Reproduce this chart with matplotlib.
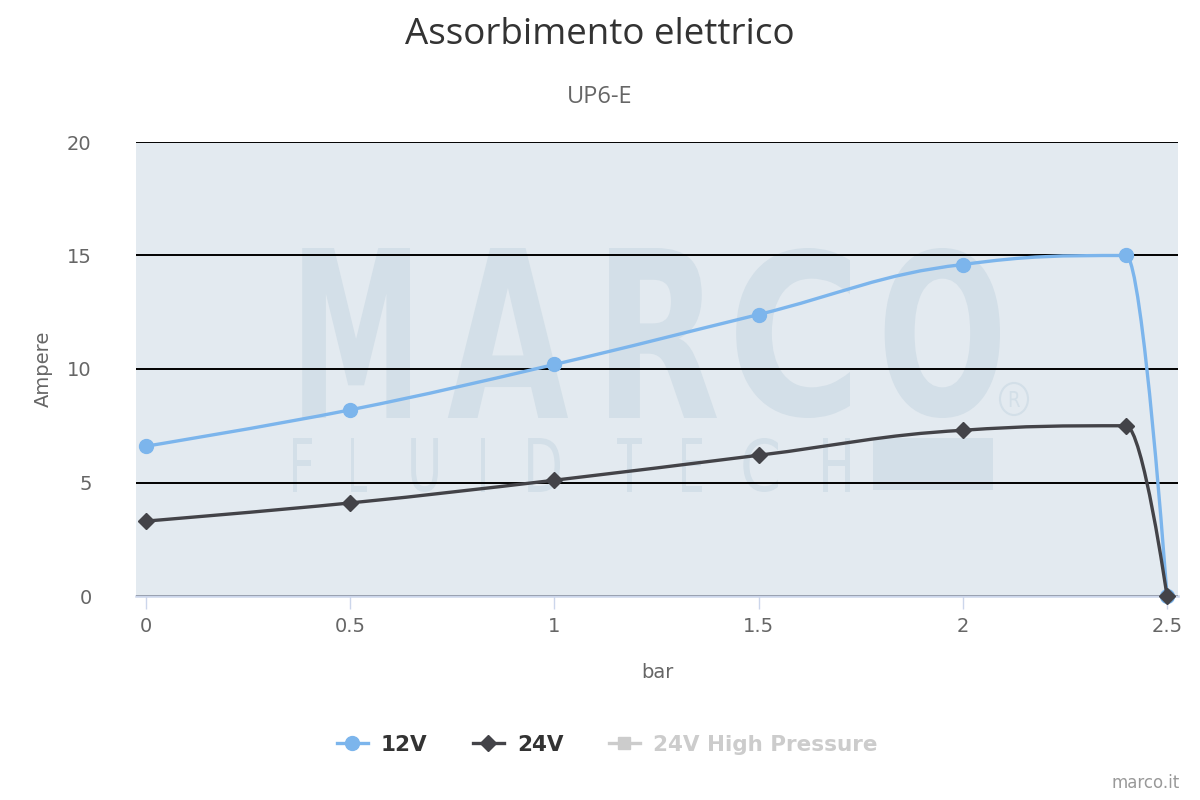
# Assorbimento elettrico - UP6-E
import numpy as np
import matplotlib
matplotlib.use('Agg')
import matplotlib.pyplot as plt
from matplotlib.path import Path
from matplotlib.patches import PathPatch, Rectangle, Ellipse
from matplotlib.textpath import TextPath
from matplotlib.font_manager import FontProperties
from matplotlib.lines import Line2D

# dati
bar = [0, 0.5, 1, 1.5, 2, 2.4, 2.5]
amp_12v = [6.6, 8.2, 10.2, 12.4, 14.6, 15.0, 0]
amp_24v = [3.3, 4.1, 5.1, 6.2, 7.3, 7.5, 0]
series_names = ['12V', '24V', '24V High Pressure']
x_ticks = [0, 0.5, 1, 1.5, 2, 2.5]
x_ticklabels = ['0', '0.5', '1', '1.5', '2', '2.5']
y_ticks = [0, 5, 10, 15, 20]

c12 = '#7cb5ec'
c24 = '#434348'
chidden = '#cccccc'
W, H = 1200, 800


# spline tipo highcharts (smoothing 1.5)
def spline_path(xs, ys):
    n = len(xs)
    right = [None] * n
    verts = [(xs[0], ys[0])]
    codes = [Path.MOVETO]
    s = 1.5
    d = s + 1
    for i in range(1, n):
        px, py = xs[i], ys[i]
        lx, ly = xs[i - 1], ys[i - 1]
        lcx, lcy = px, py
        if i < n - 1:
            nx, ny = xs[i + 1], ys[i + 1]
            lcx = (s * px + lx) / d
            lcy = (s * py + ly) / d
            rcx = (s * px + nx) / d
            rcy = (s * py + ny) / d
            corr = 0
            if rcx != lcx:
                corr = (rcy - lcy) * (rcx - px) / (rcx - lcx) + py - rcy
            lcy += corr
            rcy += corr
            if lcy > ly and lcy > py:
                lcy = max(ly, py)
                rcy = 2 * py - lcy
            elif lcy < ly and lcy < py:
                lcy = min(ly, py)
                rcy = 2 * py - lcy
            if rcy > ny and rcy > py:
                rcy = max(ny, py)
                lcy = 2 * py - rcy
            elif rcy < ny and rcy < py:
                rcy = min(ny, py)
                lcy = 2 * py - rcy
            right[i] = (rcx, rcy)
        c1 = right[i - 1] if right[i - 1] is not None else (lx, ly)
        verts += [c1, (lcx, lcy), (px, py)]
        codes += [Path.CURVE4] * 3
    return Path(verts, codes)


fig = plt.figure(figsize=(12, 8), dpi=100)
fig.patch.set_facecolor('white')
ax = fig.add_axes([136 / W, 1 - 596 / H, 1042 / W, 454 / H])
ax.set_facecolor('#e3eaf0')

# watermark MARCO FLUID TECH
wm = '#d3dfe8'


def letter(ch, x0, x1, y0, y1, weight='bold'):
    tp = TextPath((0, 0), ch, size=100, prop=FontProperties(family='DejaVu Sans', weight=weight))
    v = tp.vertices
    bx0, by0 = v[:, 0].min(), v[:, 1].min()
    bx1, by1 = v[:, 0].max(), v[:, 1].max()
    nv = np.column_stack([
        (x0 + (v[:, 0] - bx0) / (bx1 - bx0) * (x1 - x0)) / W,
        1 - (y1 - (v[:, 1] - by0) / (by1 - by0) * (y1 - y0)) / H,
    ])
    p = PathPatch(Path(nv, tp.codes), transform=fig.transFigure, facecolor=wm,
                  edgecolor='none', zorder=0.3)
    ax.add_patch(p)


for ch, x0, x1 in [('M', 290, 410), ('A', 447, 568), ('R', 594, 717),
                   ('C', 727, 850), ('O', 877, 1000)]:
    letter(ch, x0, x1, 248, 418)
for ch, x0, x1 in [('F', 288, 312), ('L', 347, 367), ('U', 407, 438), ('I', 477, 485),
                   ('D', 523, 560), ('T', 617, 642), ('E', 678, 702), ('C', 740, 778),
                   ('H', 818, 850)]:
    letter(ch, x0, x1, 438, 492, weight='normal')
ax.add_patch(Rectangle((873 / W, 1 - 490 / H), 120 / W, 52 / H, transform=fig.transFigure,
                       facecolor=wm, edgecolor='none', zorder=0.3))
ax.add_patch(Ellipse((1014 / W, 1 - 399 / H), 28 / W, 32 / H, transform=fig.transFigure,
                     facecolor='none', edgecolor=wm, lw=1.5, zorder=0.3))
letter('R', 1008, 1020, 391, 407, weight='normal')

# serie
ax.add_patch(PathPatch(spline_path(bar, amp_12v), facecolor='none', edgecolor=c12,
                       lw=2.4, zorder=3, capstyle='round', joinstyle='round'))
ax.plot(bar, amp_12v, ls='none', marker='o', ms=10, color=c12, zorder=4, clip_on=False)
ax.add_patch(PathPatch(spline_path(bar, amp_24v), facecolor='none', edgecolor=c24,
                       lw=2.4, zorder=5, capstyle='round', joinstyle='round'))
ax.plot(bar, amp_24v, ls='none', marker='D', ms=8, color=c24, zorder=6, clip_on=False)

ax.set_xlim(-10 / 408.4, 2.5 + 11 / 408.4)
ax.set_ylim(0, 20)
ax.set_xticks(x_ticks)
ax.set_xticklabels(x_ticklabels)
ax.set_yticks(y_ticks)
ax.grid(axis='y', color='black', lw=1.4)
ax.set_axisbelow(True)
for sp in ['top', 'left', 'right']:
    ax.spines[sp].set_visible(False)
ax.spines['bottom'].set_color('#ccd6eb')
ax.spines['bottom'].set_linewidth(1.8)
ax.spines['bottom'].set_zorder(2.5)
ax.tick_params(axis='x', length=9, width=1, color='#ccd6eb', labelsize=14,
               labelcolor='#666666', pad=6)
ax.tick_params(axis='y', length=0, labelsize=14, labelcolor='#666666', pad=32)

ax.set_xlabel('bar', fontsize=14, color='#666666')
ax.xaxis.set_label_coords(0.5, -(672 - 596) / 454)
ax.xaxis.label.set_va('center')
ax.set_ylabel('Ampere', fontsize=14, color='#666666')
ax.yaxis.set_label_coords(-(136 - 43) / 1042, 0.5)
ax.yaxis.label.set_va('center')

fig.text(0.5, 1 - 35 / H, 'Assorbimento elettrico', ha='center', va='center',
         fontsize=26.5, color='#333333', family='Open Sans')
fig.text(0.5, 1 - 97 / H, 'UP6-E', ha='center', va='center', fontsize=17,
         color='#666666', family='Open Sans')
fig.text(1180 / W, 1 - 783 / H, 'marco.it', ha='right', va='center', fontsize=12,
         color='#999999')

handles = [
    Line2D([], [], color=c12, lw=2.4, marker='o', ms=10),
    Line2D([], [], color=c24, lw=2.4, marker='D', ms=8),
    Line2D([], [], color=chidden, lw=2.4, marker='s', ms=9),
]
leg = fig.legend(handles, series_names, loc='center', bbox_to_anchor=(607 / W, 1 - 745 / H),
                 ncol=3, frameon=False, handlelength=1.45, handletextpad=0.6,
                 columnspacing=2.1, prop={'weight': 'bold', 'size': 15.5})
for t, c in zip(leg.get_texts(), ['#333333', '#333333', chidden]):
    t.set_color(c)

fig.savefig('out.png', dpi=100)
